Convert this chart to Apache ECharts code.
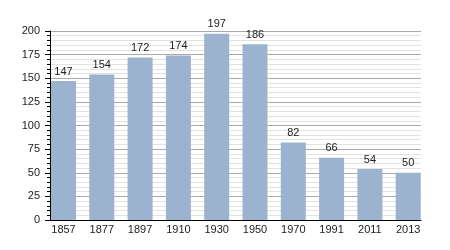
<!DOCTYPE html>
<html><head><meta charset="utf-8">
<script src="https://cdn.jsdelivr.net/npm/echarts@6/dist/echarts.min.js"></script>
<style>html,body{margin:0;padding:0;background:#fff}#c{width:450px;height:250px}</style>
</head><body><div id="c"></div>
<script>
const categories = ['1857','1877','1897','1910','1930','1950','1970','1991','2011','2013'];
const values = [147,154,172,174,197,186,82,66,54,50];
const yTicks = [0,25,50,75,100,125,150,175,200];

const chart = echarts.init(document.getElementById('c'), null, {renderer:'canvas'});
const font = 'Liberation Sans, Arial, sans-serif';
chart.setOption({
  animation:false,
  grid:[
    {left:50, right:29, top:31, bottom:30},
    {left:44.35, right:22.65, top:31, bottom:30}
  ],
  xAxis:[
    {type:'category', gridIndex:0, data:categories,
     axisLine:{show:true, lineStyle:{color:'#000', width:1}},
     axisTick:{show:false}, axisLabel:{show:false}, splitLine:{show:false}},
    {type:'category', gridIndex:1, data:categories,
     axisLine:{show:false}, axisTick:{show:false},
     axisLabel:{show:true, fontSize:11, color:'#222', fontFamily:font, margin:4}}
  ],
  yAxis:[
    {type:'value', gridIndex:0, min:0, max:yTicks[yTicks.length-1], interval:25,
     axisLine:{show:true, lineStyle:{color:'#000', width:1}},
     axisTick:{show:true, length:5, lineStyle:{color:'#000'}},
     minorTick:{show:true, splitNumber:5, length:3, lineStyle:{color:'#000'}},
     axisLabel:{fontSize:11, color:'#222', fontFamily:font, margin:10},
     splitLine:{show:true, lineStyle:{color:'#aaaaaa', width:1}},
     minorSplitLine:{show:true, lineStyle:{color:'#e2e2e2', width:1}}},
    {type:'value', gridIndex:1, min:0, max:200, show:false, splitLine:{show:false}}
  ],
  series:[{
    type:'bar', xAxisIndex:1, yAxisIndex:1, data:values, barWidth:25,
    itemStyle:{color:'#9bb3cf'},
    label:{show:true, position:'top', distance:4, fontSize:11, color:'#222', fontFamily:font}
  }]
});
</script></body></html>
